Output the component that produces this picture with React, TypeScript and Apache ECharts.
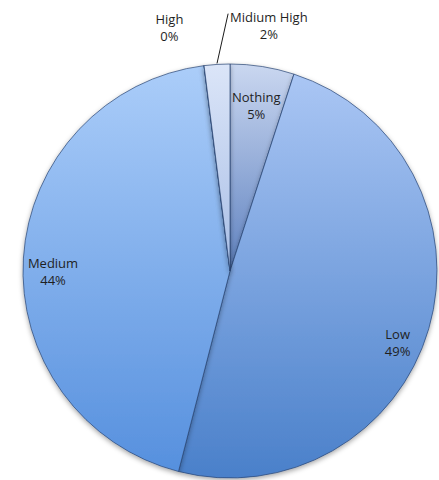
import React, { useEffect, useRef } from "react";
import * as echarts from "echarts";

const CATEGORIES = ["Nothing", "Low", "Medium", "High", "Midium High"];
const VALUES = [5, 49, 44, 0, 2];
const TOP_COLORS = ["#cad7f0", "#aac6f4", "#abcdf9", "#dbe5f8", "#dbe5f8"];
const BOTTOM_COLORS = ["#5f82c0", "#4a80ca", "#5690de", "#a9bfe6", "#a9bfe6"];
// label anchor: angle (deg clockwise from 12 o'clock) and distance as fraction of radius
const LABEL_ANGLE = [9, 113, 270, 346, 9];
const LABEL_DIST = [0.81, 0.88, 0.855, 1.21, 1.2];
const OUTSIDE = [false, false, false, true, true];

const CX = 230;
const CY = 271;
const R = 207;

export default function App() {
  const ref = useRef<HTMLDivElement>(null);
  useEffect(() => {
    document.body.style.margin = "0";
    const chart = echarts.init(ref.current!, null, { renderer: "svg" });
    const total = VALUES.reduce((a, b) => a + b, 0);
    const mids: number[] = [];
    let acc = 0;
    VALUES.forEach((v) => {
      mids.push(((acc + v / 2) / total) * 360);
      acc += v;
    });
    const data = CATEGORIES.map((name, i) => ({
      name,
      value: VALUES[i],
      itemStyle: {
        color: new echarts.graphic.LinearGradient(0, 0, 0, 1, [
          { offset: 0, color: TOP_COLORS[i] },
          { offset: 1, color: BOTTOM_COLORS[i] },
        ]),
      },
      label: { position: OUTSIDE[i] ? "outside" : "inside" },
      labelLine: {
        show: i === 4,
        lineStyle: { color: "#1a1a1a", width: 1 },
      },
    }));
    chart.setOption({
      animation: false,
      backgroundColor: "#ffffff",
      series: [
        {
          type: "pie",
          center: [CX, CY],
          radius: [0, R],
          startAngle: 90,
          clockwise: true,
          avoidLabelOverlap: false,
          data,
          itemStyle: {
            borderColor: "rgba(40,68,115,0.7)",
            borderWidth: 1,
            shadowBlur: 5,
            shadowOffsetY: 2,
            shadowColor: "rgba(0,0,0,0.35)",
          },
          label: {
            show: true,
            formatter: (p: any) => `${p.name}\n${Math.round(p.percent)}%`,
            fontFamily: "Open Sans",
            fontSize: 13,
            lineHeight: 17,
            color: "#1f1f1f",
            align: "center",
          },
          labelLayout: (params: any) => {
            const i = params.dataIndex;
            const a = (LABEL_ANGLE[i] * Math.PI) / 180;
            const d = LABEL_DIST[i] * R;
            const x = CX + d * Math.sin(a);
            const y = CY - d * Math.cos(a);
            const res: any = { x, y, align: "center", verticalAlign: "middle" };
            if (i === 4) {
              const m = (mids[i] * Math.PI) / 180;
              const ex = CX + R * Math.sin(m);
              const ey = CY - R * Math.cos(m);
              const w = params.labelRect.width;
              const h = params.labelRect.height;
              const tx = x - w / 2 - 2;
              const ty = y - h / 2 + 5;
              res.labelLinePoints = [
                [ex, ey - 1],
                [tx, ty],
                [tx, ty],
              ];
            }
            return res;
          },
        },
      ],
    });
    return () => chart.dispose();
  }, []);
  return <div ref={ref} style={{ width: 439, height: 480 }} />;
}
